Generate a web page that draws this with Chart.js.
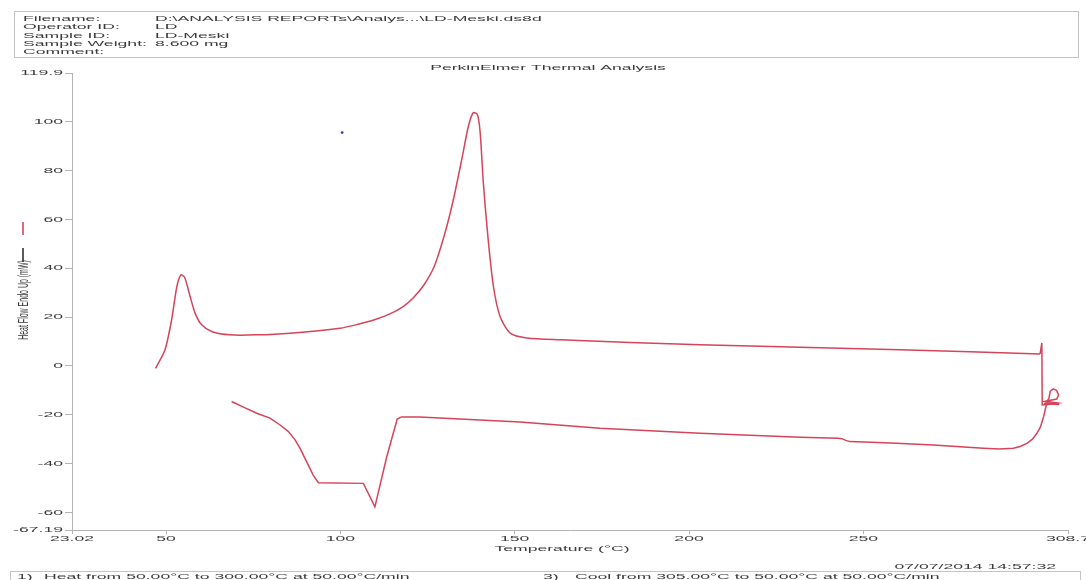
<!DOCTYPE html>
<html>
<head>
<meta charset="utf-8">
<title>PerkinElmer Thermal Analysis</title>
<script src="https://cdn.jsdelivr.net/npm/chart.js@4/dist/chart.umd.min.js"></script>
<style>
  html, body { margin: 0; padding: 0; background: #ffffff; }
  #wrap { width: 1086px; height: 580px; position: relative; overflow: hidden; }
  canvas { display: block; }
</style>
</head>
<body>
<div id="wrap"><canvas id="dsc" width="1086" height="580"></canvas></div>
<script>
// ---- DSC run LD-Meski: temperature (°C) vs heat flow endo up (mW) ----

// Heating scan, 50 -> 300 °C
const heatTemp = [47.0, 49.7, 51.6, 53.1, 54.3, 55.4, 56.9, 58.3, 60.2, 63.1, 68.3, 76.0, 85.6, 99.9,
                  105.0, 110.0, 114.2, 118.0, 121.0, 124.0, 127.0, 130.0, 132.4, 134.8, 136.7, 138.1,
                  139.3, 140.1, 141.0, 142.4, 143.9, 145.8, 148.7, 153.5, 163.0, 203.2, 260.5, 300.7];
const heatFlow = [-1.0, 6.6, 18.9, 32.5, 37.3, 36.0, 28.4, 21.7, 16.8, 14.1, 12.7, 12.7, 13.4, 15.4,
                  17.0, 19.0, 21.3, 24.3, 28.0, 33.2, 41.0, 54.4, 68.0, 84.4, 98.0, 103.6,
                  102.9, 95.4, 74.9, 51.6, 32.5, 20.2, 13.4, 11.4, 10.7, 8.6, 6.6, 4.9];

// Switch-over at the top of the range (300 -> 305 °C)
const holdTemp = [300.7, 301.2, 301.3, 303.0, 305.8, 302.2, 305.5, 306.0, 305.4, 304.5, 303.6, 303.2, 302.0, 306.2, 302.6];
const holdFlow = [4.9, 9.4, -16.0, -15.8, -15.2, -14.5, -13.6, -11.8, -10.0, -9.4, -10.4, -13.5, -15.5, -15.8, -15.3];

// Cooling scan, 305 -> 50 °C
const coolTemp = [302.6, 301.7, 300.8, 299.8, 298.5, 296.9, 295.0, 293.0, 289.0, 284.4, 270.1, 258.0,
                  246.2, 245.0, 243.8, 242.8, 231.9, 203.2, 174.5, 151.5, 122.8, 117.5, 116.3, 113.3,
                  109.9, 106.6, 93.7, 92.2, 90.3, 88.4, 87.0, 85.1, 82.7, 79.8, 76.0, 72.2, 68.8];
const coolFlow = [-15.3, -20.8, -25.0, -27.6, -30.0, -31.7, -33.0, -33.7, -34.0, -33.7, -32.4, -31.6,
                  -31.0, -30.5, -29.8, -29.6, -29.2, -27.6, -25.5, -23.0, -20.9, -20.9, -21.8, -37.2,
                  -57.7, -48.1, -47.8, -44.7, -39.2, -33.7, -30.3, -26.9, -24.2, -21.4, -19.4, -16.9, -14.6];

// Stray marker on the plot
const markTemp = [100.5];
const markFlow = [95.5];

// Axis ticks
const xTickValues = [23.02, 50, 100, 150, 200, 250, 308.7];
const xTickLabels = ['23.02', '50', '100', '150', '200', '250', '308.7'];
const yTickValues = [-67.19, -60, -40, -20, 0, 20, 40, 60, 80, 100, 119.9];
const yTickLabels = ['-67.19', '-60', '-40', '-20', '0', '20', '40', '60', '80', '100', '119.9'];

// Report header / footer text
const headerLabels = ['Filename:', 'Operator ID:', 'Sample ID:', 'Sample Weight:', 'Comment:'];
const headerValues = ['D:\\ANALYSIS REPORTs\\Analys...\\LD-Meski.ds8d', 'LD', 'LD-Meski', '8.600 mg', ''];
const runDate = '07/07/2014 14:57:32';
const methodSteps = [
  ['1)', 'Heat from 50.00°C to 300.00°C at 50.00°C/min'],
  ['2)', 'Heat from 300.00°C to 305.00°C at 50.00°C/min'],
  ['3)', 'Cool from 305.00°C to 50.00°C at 50.00°C/min']
];

const pairs = (xs, ys) => xs.map((x, i) => ({ x: x, y: ys[i] }));

const FONT = '"Liberation Sans", Arial, sans-serif';
const TEXT_COLOR = '#3a3a3a';
const AXIS_COLOR = '#b4b4b4';
const TRACE_COLOR = '#d5445a';

// The report typography is wide and flat: every glyph is drawn stretched
// horizontally (in screen space) around its anchor point.
const TEXT_STRETCH = 2.2;
const canvas = document.getElementById('dsc');
const ctx = canvas.getContext('2d');
const rawFillText = ctx.fillText;
ctx.fillText = function (text, x, y) {
  const m = this.getTransform();
  const p = m.transformPoint(new DOMPoint(x, y));
  this.save();
  this.setTransform(new DOMMatrix().translate(p.x, p.y).scale(TEXT_STRETCH, 1).translate(-p.x, -p.y).multiply(m));
  rawFillText.call(this, text, x, y);
  this.restore();
};

function text(c, str, x, y, align, size) {
  c.font = (size || 8) + 'px ' + FONT;
  c.fillStyle = TEXT_COLOR;
  c.textAlign = align || 'left';
  c.textBaseline = 'alphabetic';
  c.fillText(str, x, y);
}

const reportFrame = {
  id: 'reportFrame',
  afterDraw(chart) {
    const c = chart.ctx;
    c.save();

    // header block
    c.strokeStyle = '#c4c4c4';
    c.lineWidth = 1;
    c.strokeRect(14.5, 11.5, 1064, 46);
    const rowY = [21, 29.3, 37.6, 45.9, 54.2];
    headerLabels.forEach((lab, i) => {
      text(c, lab, 23, rowY[i]);
      if (headerValues[i]) text(c, headerValues[i], 155, rowY[i]);
    });

    // chart title
    text(c, 'PerkinElmer Thermal Analysis', 548, 70, 'center');

    // x axis title
    text(c, 'Temperature (°C)', 562, 551, 'center');

    // y axis title with the trace key
    c.save();
    c.translate(24, 300);
    c.rotate(-Math.PI / 2);
    c.font = '7px ' + FONT;
    c.fillStyle = TEXT_COLOR;
    c.textAlign = 'center';
    c.textBaseline = 'middle';
    c.fillText('Heat Flow Endo Up (mW)', 0, 0);
    c.restore();
    c.lineWidth = 1.6;
    c.strokeStyle = TRACE_COLOR;
    c.beginPath(); c.moveTo(23, 222); c.lineTo(23, 235); c.stroke();
    c.strokeStyle = '#333333';
    c.beginPath(); c.moveTo(23, 248); c.lineTo(23, 262); c.stroke();

    // run stamp and method steps
    text(c, runDate, 1056, 569, 'right');
    c.strokeStyle = '#c4c4c4';
    c.lineWidth = 1;
    c.strokeRect(10.5, 571.5, 1070, 20);
    text(c, methodSteps[0][0], 17, 578.5);
    text(c, methodSteps[0][1], 44, 578.5);
    text(c, methodSteps[1][0], 17, 586.8);
    text(c, methodSteps[1][1], 44, 586.8);
    text(c, methodSteps[2][0], 543, 578.5);
    text(c, methodSteps[2][1], 575, 578.5);

    c.restore();
  }
};

const traceStyle = {
  showLine: true,
  pointRadius: 0,
  borderColor: TRACE_COLOR,
  borderWidth: 1.5,
  fill: false
};

new Chart(ctx, {
  type: 'scatter',
  data: {
    datasets: [
      Object.assign({ label: 'Heat', data: pairs(heatTemp, heatFlow), tension: 0.25 }, traceStyle),
      Object.assign({ label: 'Hold', data: pairs(holdTemp, holdFlow), tension: 0 }, traceStyle),
      Object.assign({ label: 'Cool', data: pairs(coolTemp, coolFlow), tension: 0 }, traceStyle),
      { label: 'Mark', data: pairs(markTemp, markFlow), showLine: false, pointRadius: 1.4,
        pointBorderWidth: 0, backgroundColor: '#3340c0' }
    ]
  },
  options: {
    responsive: false,
    animation: false,
    devicePixelRatio: 1,
    layout: { padding: { top: 73, left: 0, right: 18, bottom: 20 } },
    plugins: { legend: { display: false }, tooltip: { enabled: false }, title: { display: false } },
    scales: {
      x: {
        type: 'linear',
        min: 23.02,
        max: 308.7,
        afterBuildTicks: s => { s.ticks = xTickValues.map(v => ({ value: v })); },
        afterFit: s => { s.height = 30; },
        ticks: {
          autoSkip: false, maxRotation: 0, padding: 0, color: TEXT_COLOR,
          font: { family: FONT, size: 8 },
          callback: (v, i) => xTickLabels[i]
        },
        grid: { drawOnChartArea: false, drawTicks: true, tickLength: 4, color: AXIS_COLOR },
        border: { display: true, color: AXIS_COLOR, width: 1 }
      },
      y: {
        type: 'linear',
        min: -67.19,
        max: 119.9,
        afterBuildTicks: s => { s.ticks = yTickValues.map(v => ({ value: v })); },
        afterFit: s => { s.width = 72; },
        ticks: {
          autoSkip: false, padding: 2, color: TEXT_COLOR,
          font: { family: FONT, size: 8 },
          callback: (v, i) => yTickLabels[i]
        },
        grid: { drawOnChartArea: false, drawTicks: true, tickLength: 7, color: AXIS_COLOR },
        border: { display: true, color: AXIS_COLOR, width: 1 }
      }
    }
  },
  plugins: [reportFrame]
});
</script>
</body>
</html>
